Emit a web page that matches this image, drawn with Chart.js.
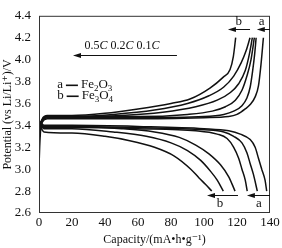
<!DOCTYPE html>
<html>
<head>
<meta charset="utf-8">
<script src="https://cdn.jsdelivr.net/npm/chart.js@4/dist/chart.umd.min.js"></script>
<style>
  body { margin: 0; background: #fff; }
</style>
</head>
<body>
<canvas id="capChart" width="282" height="248"></canvas>
<script>
// charge curves (capacity mA·h/g, potential V)
const chargeA1Cap = [0.5, 1, 2, 5, 20, 60, 100, 115, 120, 125, 128, 131, 133, 134.5, 136];
const chargeA1V = [3.30, 3.38, 3.43, 3.46, 3.46, 3.46, 3.47, 3.48, 3.50, 3.55, 3.59, 3.66, 3.76, 3.95, 4.2];
const chargeA2Cap = [0.5, 1, 2, 5, 20, 60, 100, 112, 118, 123, 126, 128, 129.5, 130.7, 131.6];
const chargeA2V = [3.30, 3.38, 3.44, 3.47, 3.47, 3.47, 3.48, 3.50, 3.53, 3.58, 3.65, 3.75, 3.9, 4.05, 4.2];
const chargeA3Cap = [0, 0.4, 1, 2, 5, 20, 60, 90, 105, 113, 119, 123, 126, 128.5, 130.5];
const chargeA3V = [3.02, 3.2, 3.36, 3.44, 3.48, 3.48, 3.48, 3.50, 3.53, 3.57, 3.63, 3.72, 3.85, 4.0, 4.2];
const chargeB1Cap = [0.5, 1, 2, 5, 20, 50, 75, 95, 108, 116, 121, 125, 127.5, 129.3];
const chargeB1V = [3.32, 3.40, 3.45, 3.48, 3.48, 3.49, 3.52, 3.57, 3.63, 3.70, 3.78, 3.90, 4.05, 4.2];
const chargeB2Cap = [0.5, 1, 2, 5, 20, 45, 70, 90, 103, 112, 118, 122.5, 125.5, 127.9];
const chargeB2V = [3.32, 3.40, 3.45, 3.48, 3.48, 3.50, 3.54, 3.60, 3.67, 3.75, 3.85, 3.97, 4.08, 4.2];
const chargeB3Cap = [0.5, 1, 2, 5, 20, 40, 60, 80, 91.5, 103.6, 111.7, 115.8, 117.8, 119.2];
const chargeB3V = [3.32, 3.41, 3.46, 3.49, 3.49, 3.51, 3.55, 3.60, 3.64, 3.74, 3.84, 3.91, 4.03, 4.2];

// discharge curves
const dischargeA1Cap = [0.3, 1.5, 3, 20, 60, 100, 115, 122, 128, 131, 133, 135, 137, 138];
const dischargeA1V = [3.44, 3.42, 3.40, 3.40, 3.39, 3.37, 3.35, 3.32, 3.27, 3.2, 3.1, 3.0, 2.9, 2.8];
const dischargeA2Cap = [0.3, 1.5, 3, 20, 60, 100, 112, 118, 123, 126, 128, 130, 132.3];
const dischargeA2V = [3.43, 3.41, 3.39, 3.39, 3.38, 3.36, 3.34, 3.30, 3.24, 3.15, 3.05, 2.95, 2.8];
const dischargeA3Cap = [0.3, 1.5, 3, 20, 60, 95, 108, 114, 118, 121, 123, 125, 126.2];
const dischargeA3V = [3.42, 3.40, 3.38, 3.38, 3.37, 3.35, 3.32, 3.28, 3.2, 3.1, 3.0, 2.9, 2.8];
const dischargeB1Cap = [0.3, 1.5, 3, 20, 50, 70, 85, 95, 103, 110, 115, 118.8];
const dischargeB1V = [3.42, 3.40, 3.39, 3.39, 3.37, 3.34, 3.29, 3.22, 3.14, 3.04, 2.93, 2.8];
const dischargeB2Cap = [0.3, 1.5, 3, 20, 45, 65, 80, 90, 98, 104, 108, 111.7];
const dischargeB2V = [3.41, 3.39, 3.37, 3.37, 3.34, 3.30, 3.24, 3.17, 3.08, 2.98, 2.90, 2.8];
const dischargeB3Cap = [0.3, 1.5, 3, 20, 40, 55, 70, 82, 92, 97, 101, 104.7];
const dischargeB3V = [3.40, 3.37, 3.34, 3.33, 3.30, 3.26, 3.20, 3.12, 3.0, 2.92, 2.86, 2.8];

const xTicks = [0, 20, 40, 60, 80, 100, 120, 140];
const yTicks = [2.6, 2.8, 3.0, 3.2, 3.4, 3.6, 3.8, 4.0, 4.2, 4.4];

// annotation arrows: [fromCap, toCap, potential]
const arrows = [
  [83.6, 20.6, 4.04],
  [127.9, 114.5, 4.28],
  [140, 132, 4.28],
  [120.6, 101.8, 2.76],
  [140, 126, 2.76]
];
const arrowLabels = [
  ["b", 121, 4.35],
  ["a", 135, 4.35],
  ["b", 109.7, 2.69],
  ["a", 133.3, 2.69]
];

function pairs(xs, ys) {
  return xs.map((x, i) => ({ x: x, y: ys[i] }));
}

const curves = [
  [chargeA1Cap, chargeA1V], [chargeA2Cap, chargeA2V], [chargeA3Cap, chargeA3V],
  [chargeB1Cap, chargeB1V], [chargeB2Cap, chargeB2V], [chargeB3Cap, chargeB3V],
  [dischargeA1Cap, dischargeA1V], [dischargeA2Cap, dischargeA2V], [dischargeA3Cap, dischargeA3V],
  [dischargeB1Cap, dischargeB1V], [dischargeB2Cap, dischargeB2V], [dischargeB3Cap, dischargeB3V]
];

const serif = "'Liberation Serif', 'DejaVu Serif', serif";

const annotatePlugin = {
  id: "annotate",
  afterDraw(chart) {
    const ctx = chart.ctx;
    const xs = chart.scales.x;
    const ys = chart.scales.y;
    const area = chart.chartArea;
    ctx.save();
    // frame
    ctx.strokeStyle = "#333";
    ctx.lineWidth = 1;
    ctx.strokeRect(area.left + 0.5, area.top + 0.5, area.right - area.left - 1, area.bottom - area.top - 1);

    // arrows
    ctx.fillStyle = "#111";
    ctx.strokeStyle = "#111";
    arrows.forEach(a => {
      const x1 = xs.getPixelForValue(a[0]);
      const x2 = xs.getPixelForValue(a[1]);
      const y = Math.round(ys.getPixelForValue(a[2])) + 0.5;
      ctx.beginPath();
      ctx.moveTo(x1, y);
      ctx.lineTo(x2 + 4, y);
      ctx.stroke();
      ctx.beginPath();
      ctx.moveTo(x2, y);
      ctx.lineTo(x2 + 8, y - 2.5);
      ctx.lineTo(x2 + 8, y + 2.5);
      ctx.closePath();
      ctx.fill();
    });

    ctx.font = "13px " + serif;
    ctx.textAlign = "center";
    ctx.textBaseline = "middle";
    arrowLabels.forEach(l => {
      ctx.fillText(l[0], xs.getPixelForValue(l[1]), ys.getPixelForValue(l[2]));
    });

    // rate label
    const rx = xs.getPixelForValue(27.5);
    const ry = ys.getPixelForValue(4.13);
    ctx.textAlign = "left";
    let cx = rx;
    ["0.5", "0.2", "0.1"].forEach(r => {
      ctx.font = "12px " + serif;
      ctx.fillText(r, cx, ry);
      cx += ctx.measureText(r).width;
      ctx.font = "italic 12px " + serif;
      ctx.fillText("C", cx, ry);
      cx += ctx.measureText("C ").width;
    });

    // legend text with subscripts
    const legend = [["a", "Fe", "2", "O", "3", 3.77], ["b", "Fe", "3", "O", "4", 3.67]];
    legend.forEach(g => {
      let lx = xs.getPixelForValue(11);
      const ly = ys.getPixelForValue(g[5]);
      ctx.font = "13px " + serif;
      ctx.fillText(g[0], lx, ly);
      lx += ctx.measureText(g[0]).width + 3;
      ctx.beginPath();
      ctx.lineWidth = 1.6;
      ctx.moveTo(lx, ly + 0.5);
      ctx.lineTo(lx + 12, ly + 0.5);
      ctx.stroke();
      lx += 15;
      ctx.fillText(g[1], lx, ly);
      lx += ctx.measureText(g[1]).width;
      ctx.font = "9px " + serif;
      ctx.fillText(g[2], lx, ly + 4);
      lx += ctx.measureText(g[2]).width;
      ctx.font = "13px " + serif;
      ctx.fillText(g[3], lx, ly);
      lx += ctx.measureText(g[3]).width;
      ctx.font = "9px " + serif;
      ctx.fillText(g[4], lx, ly + 4);
    });
    ctx.restore();
  }
};

const ctx = document.getElementById("capChart").getContext("2d");
new Chart(ctx, {
  type: "scatter",
  data: {
    datasets: curves.map(c => ({
      data: pairs(c[0], c[1]),
      showLine: true,
      borderColor: "#111",
      borderWidth: 1.5,
      pointRadius: 0,
      fill: false,
      cubicInterpolationMode: "monotone"
    }))
  },
  options: {
    responsive: false,
    animation: false,
    layout: { padding: { top: 5, right: 12, left: 0, bottom: 0 } },
    plugins: { legend: { display: false }, tooltip: { enabled: false } },
    scales: {
      x: {
        type: "linear",
        min: 0,
        max: 140,
        afterBuildTicks: s => { s.ticks = xTicks.map(v => ({ value: v })); },
        afterFit: s => { s.height = 35; },
        grid: { display: false, drawTicks: false },
        border: { display: false },
        ticks: { color: "#111", padding: 2, maxRotation: 0, font: { family: serif, size: 13 } },
        title: {
          display: true,
          text: "Capacity/(mA•h•g⁻¹)",
          color: "#111",
          padding: { top: 0, bottom: 1 },
          font: { family: serif, size: 12 }
        }
      },
      y: {
        type: "linear",
        min: 2.6,
        max: 4.4,
        afterBuildTicks: s => { s.ticks = yTicks.map(v => ({ value: v })); },
        afterFit: s => { s.width = 39; },
        grid: { display: false, drawTicks: false },
        border: { display: false },
        ticks: {
          color: "#111",
          padding: 8,
          font: { family: serif, size: 13 },
          callback: v => v.toFixed(1)
        },
        title: {
          display: true,
          text: "Potential (vs Li/Li⁺)/V",
          color: "#111",
          padding: { top: 1, bottom: 0 },
          font: { family: serif, size: 12 }
        }
      }
    }
  },
  plugins: [annotatePlugin]
});
</script>
</body>
</html>
